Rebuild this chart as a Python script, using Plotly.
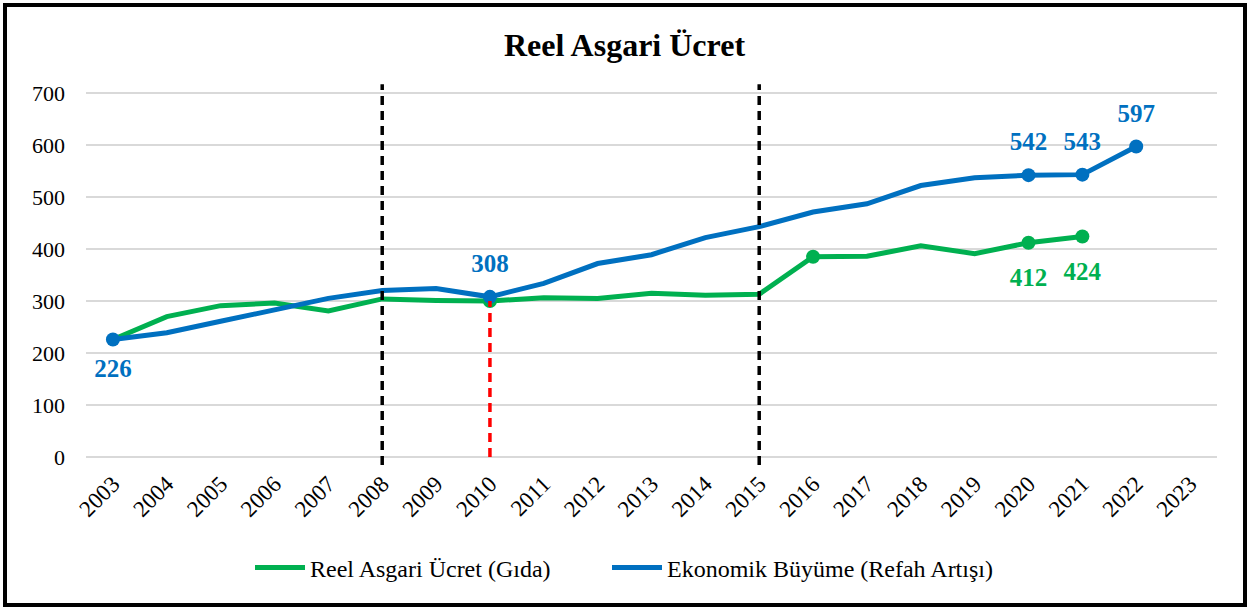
import plotly.graph_objects as go

years = [str(y) for y in range(2003, 2024)]
green_years = [str(y) for y in range(2003, 2022)]
green_vals = [226, 270, 291, 296, 281, 304, 301, 300, 306, 305, 315, 311, 313, 385, 386, 406, 391, 412, 424]
blue_years = [str(y) for y in range(2003, 2023)]
blue_vals = [226, 239, 261, 283, 305, 320, 324, 308, 334, 372, 389, 422, 443, 471, 487, 522, 537, 542, 543, 597]

green_marked = ["2010", "2016", "2020", "2021"]
green_labels = ["", "", "412", "424"]
blue_marked = ["2003", "2010", "2020", "2021", "2022"]
blue_labels = ["226", "308", "542", "543", "597"]
blue_label_pos = ["bottom center", "top center", "top center", "top center", "top center"]
period_years = ["2008", "2015"]
red_year = "2010"

GREEN = "#00B050"
BLUE = "#0070C0"
FONT = "Liberation Serif"

fig = go.Figure()

fig.add_trace(go.Scatter(
    x=green_years, y=green_vals, name="Reel Asgari Ücret (Gıda)", mode="lines",
    line=dict(color=GREEN, width=5), legend="legend",
))
fig.add_trace(go.Scatter(
    x=blue_years, y=blue_vals, name="Ekonomik Büyüme (Refah Artışı)", mode="lines",
    line=dict(color=BLUE, width=5), legend="legend2",
))

# vertical reference lines (category index positions)
for yr in period_years:
    i = years.index(yr)
    fig.add_shape(type="line", xref="x", yref="paper", x0=i, x1=i, y0=0, y1=1.01,
                  line=dict(color="black", width=3.5, dash="9px,6px"), layer="above")
ri = years.index(red_year)
fig.add_shape(type="line", xref="x", yref="y", x0=ri, x1=ri, y0=0,
              y1=green_vals[green_years.index(red_year)],
              line=dict(color="#FF0000", width=3.5, dash="9px,6px"), layer="above")

green_y = [green_vals[green_years.index(y)] for y in green_marked]
blue_y = [blue_vals[blue_years.index(y)] for y in blue_marked]

# visible markers
fig.add_trace(go.Scatter(
    x=green_marked, y=green_y, mode="markers", showlegend=False, hoverinfo="skip",
    marker=dict(size=14, color=GREEN, opacity=1, line=dict(width=0)),
))
fig.add_trace(go.Scatter(
    x=blue_marked, y=blue_y, mode="markers", showlegend=False, hoverinfo="skip",
    marker=dict(size=14, color=BLUE, opacity=1, line=dict(width=0)),
))
# data labels (transparent larger markers give the label offset)
fig.add_trace(go.Scatter(
    x=green_marked, y=green_y, mode="markers+text", showlegend=False, hoverinfo="skip",
    marker=dict(size=38, color="rgba(0,0,0,0)", line=dict(width=0)),
    text=green_labels, textposition="bottom center",
    textfont=dict(family=FONT, size=25, color=GREEN, weight="bold"),
))
fig.add_trace(go.Scatter(
    x=blue_marked, y=blue_y, mode="markers+text", showlegend=False, hoverinfo="skip",
    marker=dict(size=28, color="rgba(0,0,0,0)", line=dict(width=0)),
    text=blue_labels, textposition=blue_label_pos,
    textfont=dict(family=FONT, size=25, color=BLUE, weight="bold"),
))

L, R, T, B = 86, 32, 88, 145
W, H = 1249, 610
ph = H - T - B
pw = W - L - R
fig.add_shape(type="rect", xref="paper", yref="paper",
              x0=(5 - L) / pw, x1=(W - 4 - L) / pw,
              y0=-(H - 5 - (H - B)) / ph, y1=(H - B - 5) / ph,
              line=dict(color="black", width=4))

leg_y = -(568 - (H - B)) / ph
leg_common = dict(orientation="h", xanchor="left", y=leg_y, yanchor="middle",
                  font=dict(family=FONT, size=24, color="black"), itemwidth=50,
                  bgcolor="rgba(0,0,0,0)")

fig.update_layout(
    width=W, height=H,
    margin=dict(l=L, r=R, t=T, b=B),
    paper_bgcolor="white", plot_bgcolor="white",
    font=dict(family=FONT, color="black"),
    title=dict(text="<b>Reel Asgari Ücret</b>", x=0.5, xanchor="center",
               y=1 - 45 / H, yanchor="middle", font=dict(family=FONT, size=32, color="black")),
    showlegend=True,
    legend=dict(x=(250 - L) / pw, **leg_common),
    legend2=dict(x=(607 - L) / pw, **leg_common),
    xaxis=dict(type="category", categoryorder="array", categoryarray=years,
               range=[-0.5, len(years) - 0.5], tickangle=-45, showgrid=False,
               tickfont=dict(family=FONT, size=23, color="black"), showline=False,
               ticks=""),
    yaxis=dict(range=[-15.4, 709.6], tickvals=list(range(0, 701, 100)),
               gridcolor="#D9D9D9", gridwidth=2, zeroline=False, showline=False,
               tickfont=dict(family=FONT, size=22, color="black"), ticklabelstandoff=20),
)

fig.write_html("out.html", config={"displayModeBar": False},
               post_script="document.body.style.margin='0';")
